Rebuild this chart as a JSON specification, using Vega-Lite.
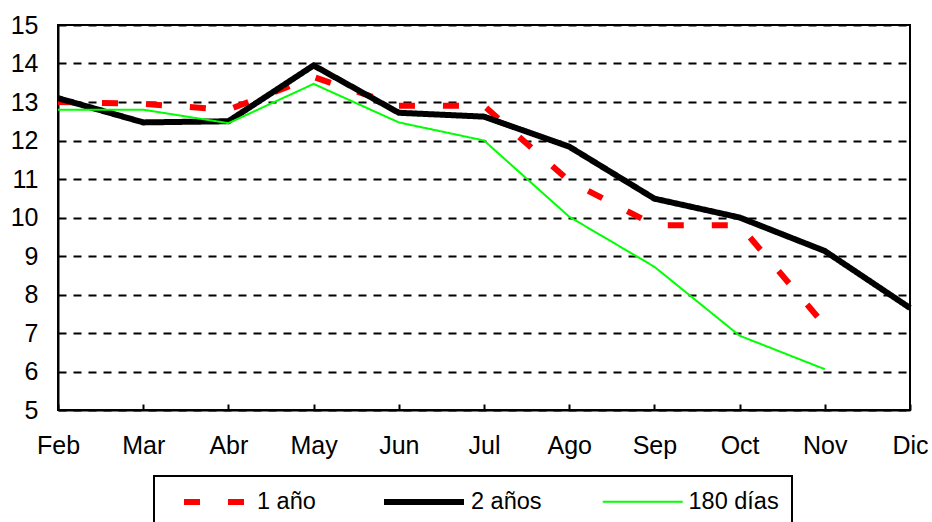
{
  "$schema": "https://vega.github.io/schema/vega-lite/v6.json",
  "width": 852,
  "height": 385,
  "autosize": {"type": "none"},
  "padding": {"left": 58, "top": 25, "right": 22, "bottom": 112},
  "background": "white",
  "config": {
    "view": {"stroke": "black", "strokeWidth": 2},
    "font": "Liberation Sans",
    "axis": {"labelFont": "Liberation Sans", "labelColor": "black"}
  },
  "data": {
    "values": [
      {"mes": "Feb", "serie": "1 año", "valor": 13.0},
      {"mes": "Mar", "serie": "1 año", "valor": 12.95},
      {"mes": "Abr", "serie": "1 año", "valor": 12.8},
      {"mes": "May", "serie": "1 año", "valor": 13.65},
      {"mes": "Jun", "serie": "1 año", "valor": 12.9},
      {"mes": "Jul", "serie": "1 año", "valor": 12.9},
      {"mes": "Ago", "serie": "1 año", "valor": 10.95},
      {"mes": "Sep", "serie": "1 año", "valor": 9.8},
      {"mes": "Oct", "serie": "1 año", "valor": 9.8},
      {"mes": "Nov", "serie": "1 año", "valor": 7.2},
      {"mes": "Feb", "serie": "2 años", "valor": 13.1},
      {"mes": "Mar", "serie": "2 años", "valor": 12.47},
      {"mes": "Abr", "serie": "2 años", "valor": 12.5},
      {"mes": "May", "serie": "2 años", "valor": 13.95},
      {"mes": "Jun", "serie": "2 años", "valor": 12.72},
      {"mes": "Jul", "serie": "2 años", "valor": 12.62},
      {"mes": "Ago", "serie": "2 años", "valor": 11.84},
      {"mes": "Sep", "serie": "2 años", "valor": 10.49},
      {"mes": "Oct", "serie": "2 años", "valor": 10.0},
      {"mes": "Nov", "serie": "2 años", "valor": 9.13},
      {"mes": "Dic", "serie": "2 años", "valor": 7.65},
      {"mes": "Feb", "serie": "180 días", "valor": 12.8},
      {"mes": "Mar", "serie": "180 días", "valor": 12.8},
      {"mes": "Abr", "serie": "180 días", "valor": 12.45},
      {"mes": "May", "serie": "180 días", "valor": 13.47},
      {"mes": "Jun", "serie": "180 días", "valor": 12.47},
      {"mes": "Jul", "serie": "180 días", "valor": 12.0},
      {"mes": "Ago", "serie": "180 días", "valor": 10.02},
      {"mes": "Sep", "serie": "180 días", "valor": 8.72},
      {"mes": "Oct", "serie": "180 días", "valor": 6.93},
      {"mes": "Nov", "serie": "180 días", "valor": 6.06}
    ]
  },
  "mark": {"type": "line", "strokeCap": "butt", "strokeJoin": "miter"},
  "encoding": {
    "x": {
      "field": "mes",
      "type": "ordinal",
      "sort": ["Feb", "Mar", "Abr", "May", "Jun", "Jul", "Ago", "Sep", "Oct", "Nov", "Dic"],
      "scale": {"type": "point", "padding": 0},
      "axis": {
        "title": null,
        "labelAngle": 0,
        "labelFontSize": 25,
        "labelPadding": 29,
        "labelFlush": false,
        "domainColor": "black",
        "domainWidth": 2,
        "tickColor": "black",
        "tickWidth": 2,
        "tickSize": -6,
        "grid": false
      }
    },
    "y": {
      "field": "valor",
      "type": "quantitative",
      "scale": {"domain": [5, 15], "nice": false, "zero": false},
      "axis": {
        "title": null,
        "values": [5, 6, 7, 8, 9, 10, 11, 12, 13, 14, 15],
        "labelFontSize": 25,
        "labelPadding": 20,
        "ticks": false,
        "domainColor": "black",
        "domainWidth": 2,
        "grid": true,
        "gridColor": "black",
        "gridWidth": 2,
        "gridDash": [8, 7],
        "gridOpacity": 1
      }
    },
    "color": {
      "field": "serie",
      "type": "nominal",
      "scale": {"domain": ["1 año", "2 años", "180 días"], "range": ["#ff0000", "#000000", "#00ff00"]},
      "legend": {
        "title": null,
        "orient": "none",
        "legendX": 96,
        "legendY": 451,
        "direction": "horizontal",
        "symbolType": "M-1,0L7,0",
        "symbolSize": 400,
        "labelFontSize": 23.5,
        "labelFont": "Liberation Sans",
        "labelColor": "black",
        "labelOffset": 64,
        "columnPadding": 56,
        "padding": 13,
        "strokeColor": "black",
        "encode": {
          "legend": {"update": {"strokeWidth": {"value": 2}}},
          "symbols": {"update": {"strokeDashOffset": {"value": 30}}}
        }
      }
    },
    "strokeDash": {
      "field": "serie",
      "type": "nominal",
      "scale": {"domain": ["1 año", "2 años", "180 días"], "range": [[16, 28], [1, 0], [1, 0]]}
    },
    "strokeWidth": {
      "field": "serie",
      "type": "nominal",
      "scale": {"type": "ordinal", "domain": ["1 año", "2 años", "180 días"], "range": [6, 6, 2]}
    }
  }
}
